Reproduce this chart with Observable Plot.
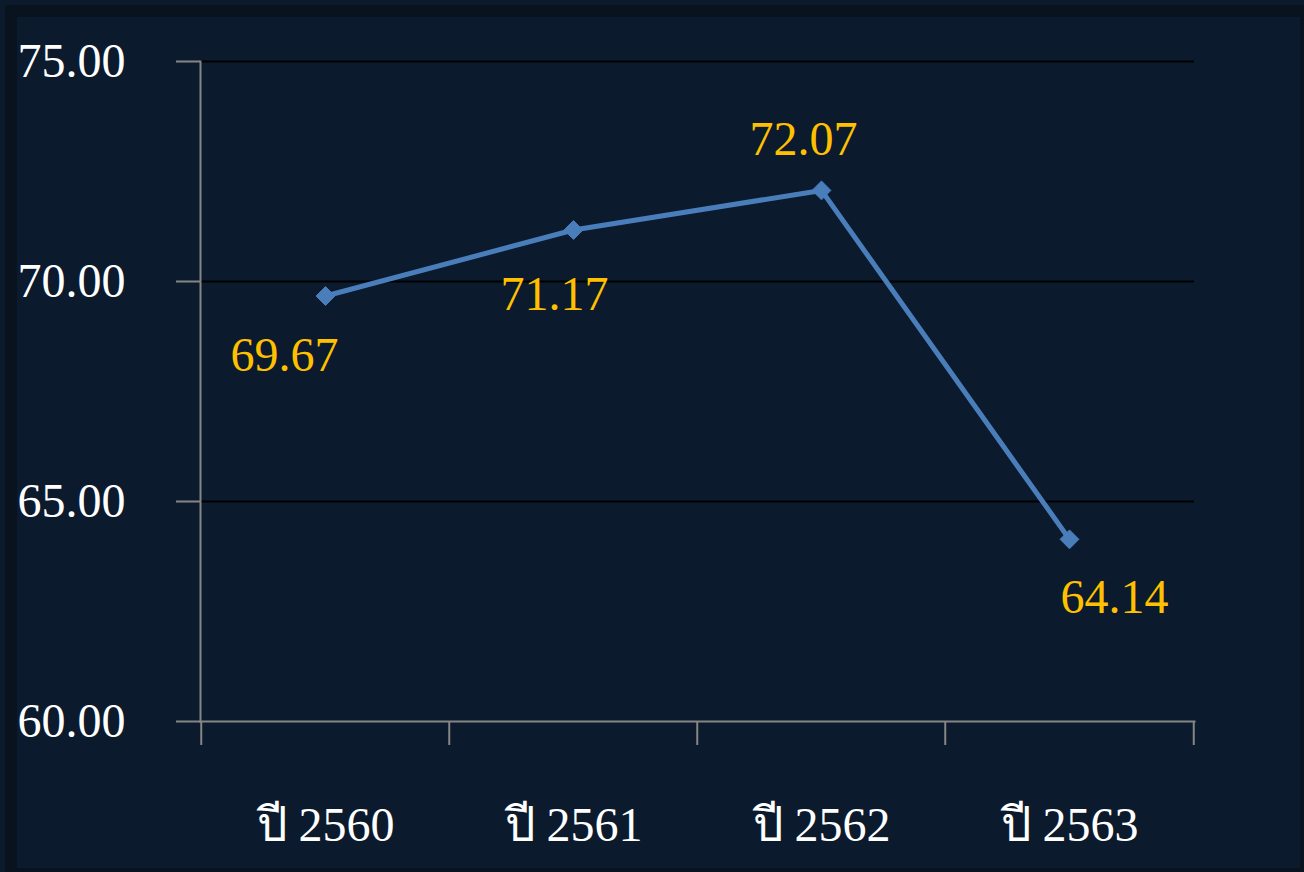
<!DOCTYPE html>
<html>
<head>
<meta charset="utf-8">
<script src="https://cdn.jsdelivr.net/npm/d3@7"></script>
<script src="https://cdn.jsdelivr.net/npm/@observablehq/plot@0.6"></script>
<style>
  html, body { margin: 0; padding: 0; background: #0b1a2c; }
  #wrap { position: relative; width: 1304px; height: 872px; overflow: hidden; }
  #frame { position: absolute; left: 5px; top: 5px; right: 0; bottom: 0;
           border-left: 12px solid #08131f; border-top: 12px solid #08131f;
           border-right: 4px solid #08131f; border-bottom: 4px solid #08131f;
           pointer-events: none; }
</style>
</head>
<body>
<div id="wrap"><div id="frame"></div></div>
<script>
const categories = ["ปี 2560", "ปี 2561", "ปี 2562", "ปี 2563"];
const values = [69.67, 71.17, 72.07, 64.14];
const yTicks = [60, 65, 70, 75];
const gridValues = [65, 70, 75];

// label placement (style, not data)
const labelDx = [-41, -19, -18, 45];
const labelDy = [60, 65, -51, 58];

const data = categories.map((c, i) => ({cat: c, val: values[i], dx: labelDx[i], dy: labelDy[i]}));

const W = 1304, H = 872;
const mL = 200, mR = 110, mT = 61, mB = 151;
const bw = (W - mL - mR) / categories.length;
const gray = "#868686";
const font = "'Liberation Serif', 'Times New Roman', serif";

const marks = [
  Plot.ruleY(gridValues, {y: d => d, stroke: "#000000", strokeWidth: 2}),
  Plot.axisY({ticks: yTicks, tickSize: 24, tickPadding: 51, tickFormat: d => d.toFixed(2),
              fontSize: 48, fill: "#ffffff", stroke: gray, strokeWidth: 2, strokeOpacity: 1, label: null}),
  Plot.frame({anchor: "left", stroke: gray, strokeWidth: 2}),
  Plot.frame({anchor: "bottom", stroke: gray, strokeWidth: 2}),
  Plot.ruleX(categories, {x: d => d, dx: -bw / 2, y1: 60, y2: 60, insetBottom: -24, stroke: gray, strokeWidth: 2}),
  Plot.ruleX([categories[categories.length - 1]], {x: d => d, dx: bw / 2, y1: 60, y2: 60, insetBottom: -24, stroke: gray, strokeWidth: 2}),
  Plot.axisX({tickSize: 0, tickPadding: 85, fontSize: 48, fill: "#ffffff", label: null}),
  Plot.line(data, {x: "cat", y: "val", stroke: "#4a7ebb", strokeWidth: 5}),
  Plot.dot(data, {x: "cat", y: "val", symbol: "diamond2", r: 8.5, fill: "#4a7ebb", stroke: "#4a7ebb", strokeWidth: 1}),
  ...data.map(d => Plot.text([d], {x: "cat", y: "val", text: v => v.val.toFixed(2), dx: d.dx, dy: d.dy,
              fill: "#ffc000", fontSize: 48}))
];

const chart = Plot.plot({
  width: W, height: H,
  marginLeft: mL, marginRight: mR, marginTop: mT, marginBottom: mB,
  style: {background: "transparent", fontFamily: font, overflow: "visible"},
  x: {type: "band", domain: categories, padding: 0},
  y: {domain: [60, 75]},
  marks
});
chart.style.position = "absolute";
chart.style.left = "0px";
chart.style.top = "0px";
document.getElementById("wrap").insertBefore(chart, document.getElementById("frame"));
</script>
</body>
</html>
